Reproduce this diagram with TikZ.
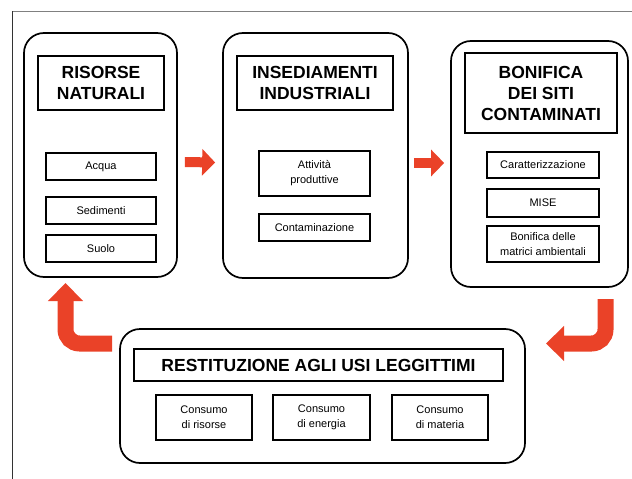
\documentclass[tikz,border=0pt]{standalone}
\usepackage{fontspec}
\setmainfont{Liberation Sans}
\usetikzlibrary{arrows.meta}
\definecolor{rosso}{RGB}{234,66,40}

\tikzset{
	blocco/.style={draw, line width=1.7pt, rounded corners=20pt, inner sep=0pt},
	titolo/.style={draw, line width=1.3pt, inner sep=0pt, align=center, font=\fontsize{17.5}{21}\selectfont\bfseries},
	voce/.style={draw, line width=1.2pt, inner sep=0pt, align=center, font=\fontsize{11}{15}\selectfont},
	freccia/.style={draw=rosso, line width=10pt, -{Triangle[length=13pt,width=26pt]}},
	ritorno/.style={draw=rosso, line width=16pt, rounded corners=14pt, -{Triangle[length=18pt,width=34pt]}}
}

\begin{document}
\begin{tikzpicture}[x=1pt,y=-1pt]
		\useasboundingbox (0,0) rectangle (632,479);
		\draw[gray, line width=1pt] (12,11) -- (632,11);
		\draw[black!80, line width=1.2pt] (12.5,11) -- (12.5,479);

		\node[blocco, minimum width=153pt, minimum height=244pt] (ris) at (100.5,155) {};
		\node[titolo, minimum width=126pt, minimum height=54pt] (tris) at (101,83) {RISORSE\\NATURALI};
		\node[voce, minimum width=110pt, minimum height=27pt] (acqua) at (101,166.5) {Acqua};
		\node[voce, minimum width=110pt, minimum height=27pt] (sed) at (101,210.5) {Sedimenti};
		\node[voce, minimum width=110pt, minimum height=27pt] (suolo) at (101,248.5) {Suolo};

		\node[blocco, minimum width=185pt, minimum height=245pt] (ins) at (315.5,155.5) {};
		\node[titolo, minimum width=156pt, minimum height=54pt] (tins) at (315,83) {INSEDIAMENTI\\INDUSTRIALI};
		\node[voce, minimum width=111pt, minimum height=45pt] (att) at (314.5,173.5) {Attività\\produttive};
		\node[voce, minimum width=111pt, minimum height=27pt] (cont) at (314.5,227.5) {Contaminazione};

		\node[blocco, minimum width=177pt, minimum height=246pt] (bon) at (539.5,164) {};
		\node[titolo, minimum width=152pt, minimum height=80pt] (tbon) at (541,93) {BONIFICA\\DEI SITI\\CONTAMINATI};
		\node[voce, minimum width=112pt, minimum height=26pt] (car) at (543,165) {Caratterizzazione};
		\node[voce, minimum width=112pt, minimum height=28pt] (mise) at (543,203) {MISE};
		\node[voce, minimum width=112pt, minimum height=36pt] (mat) at (543,244) {Bonifica delle\\matrici ambientali};

		\node[blocco, minimum width=405pt, minimum height=134pt] (res) at (322.5,396) {};
		\node[titolo, minimum width=369pt, minimum height=32pt] (tres) at (318.5,365) {RESTITUZIONE AGLI USI LEGGITTIMI};
		\node[voce, minimum width=96pt, minimum height=45pt] (ris1) at (204,417.5) {Consumo\\di risorse};
		\node[voce, minimum width=97pt, minimum height=45pt] (ris2) at (321.5,417.5) {Consumo\\di energia};
		\node[voce, minimum width=96pt, minimum height=45pt] (ris3) at (440,417.5) {Consumo\\di materia};

		\draw[freccia] ([xshift=7pt,yshift=-7pt]ris.east) -- ([xshift=-7pt,yshift=-7pt]ins.west);
		\draw[freccia, shorten >=6pt] ([xshift=5pt,yshift=-7.5pt]ins.east) coordinate (f2) -- (f2 -| bon.west);

		\coordinate (r1) at (112,343.5);
		\coordinate (r2) at (65.5,283);
		\coordinate (b1) at (605.5,299);
		\coordinate (b2) at (546,343.5);
		\draw[ritorno] (r1) -| (r2);
		\draw[ritorno] (b1) |- (b2);
	\end{tikzpicture}
\end{document}
